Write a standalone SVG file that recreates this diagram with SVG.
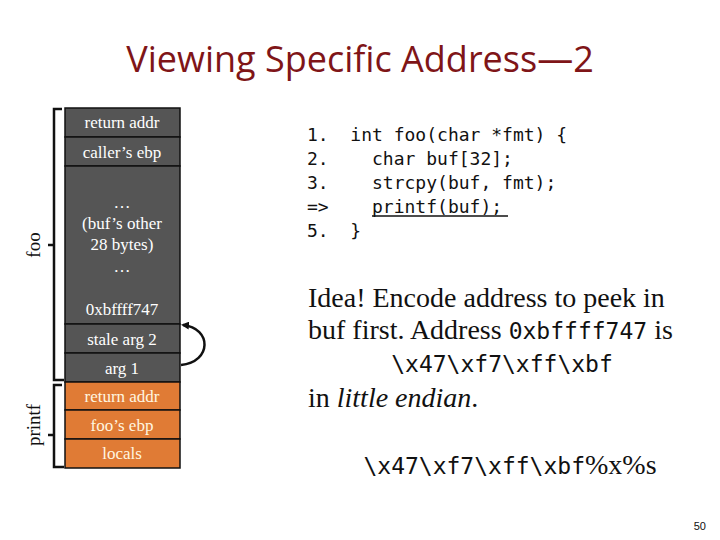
<svg xmlns="http://www.w3.org/2000/svg" width="720" height="540" viewBox="0 0 720 540">
<style>
.g{fill:#555555;stroke:#111;stroke-width:1.5}
.o{fill:#e07b35;stroke:#111;stroke-width:1.5}
.ct{font-family:"Liberation Serif",serif;font-size:17px;fill:#fff;text-anchor:middle}
.ot{font-family:"Liberation Serif",serif;font-size:17px;fill:#fff6e0;text-anchor:middle}
.code{font-family:"DejaVu Sans Mono",monospace;font-size:18px;fill:#111;white-space:pre}
.idea{font-family:"Liberation Serif",serif;font-size:28px;fill:#111}
.mono{font-family:"DejaVu Sans Mono",monospace;font-size:23px}
.br{fill:none;stroke:#111;stroke-width:2.5}
</style>
<defs><marker id="ah" markerWidth="8" markerHeight="8" refX="6" refY="4" orient="auto" markerUnits="userSpaceOnUse"><path d="M0,0 L8,4 L0,8 z" fill="#111"/></marker></defs>
<rect width="720" height="540" fill="#fff"/>
<text x="360" y="72" text-anchor="middle" font-family="Open Sans,Liberation Sans,sans-serif" font-size="36" fill="#7f1518">Viewing Specific Address—2</text>
<g id="stack">
<g id="n1"><rect class="g" x="65" y="108" width="115" height="29"/><text class="ct" x="122" y="128">return addr</text></g>
<g id="n2"><rect class="g" x="65" y="137" width="115" height="29"/><text class="ct" x="122" y="158">caller’s ebp</text></g>
<g id="n3"><rect class="g" x="65" y="166" width="115" height="158"/><text class="ct" x="122" y="208">…</text><text class="ct" x="122" y="229">(buf’s other</text><text class="ct" x="122" y="250">28 bytes)</text><text class="ct" x="122" y="272">…</text><text class="ct" x="122" y="315">0xbffff747</text></g>
<g id="n4"><rect class="g" x="65" y="324" width="115" height="29"/><text class="ct" x="122" y="345">stale arg 2</text></g>
<g id="n5"><rect class="g" x="65" y="353" width="115" height="29"/><text class="ct" x="122" y="374">arg 1</text></g>
<g id="n6"><rect class="o" x="65" y="382" width="115" height="28"/><text class="ot" x="122" y="402">return addr</text></g>
<g id="n7"><rect class="o" x="65" y="410" width="115" height="29"/><text class="ot" x="122" y="431">foo’s ebp</text></g>
<g id="n8"><rect class="o" x="65" y="439" width="115" height="29"/><text class="ot" x="122" y="459">locals</text></g>
</g>
<g id="braces">
<path class="br" d="M62,109 H54 V245 H48 M54,245 V380 H64"/>
<path class="br" d="M62,385 H54 V435 H48 M54,435 V467 H64"/>
<text x="40" y="245" transform="rotate(-90 40 245)" text-anchor="middle" font-family="Liberation Serif,serif" font-size="19" fill="#111">foo</text>
<text x="40" y="425" transform="rotate(-90 40 425)" text-anchor="middle" font-family="Liberation Serif,serif" font-size="19" fill="#111">printf</text>
</g>
<g id="connectors">
<path d="M181,365 C212,362 212,328 183,325" fill="none" stroke="#111" stroke-width="2.5" marker-end="url(#ah)"/>
</g>
<g id="code" class="code">
<text x="307" y="141" xml:space="preserve">1.  int foo(char *fmt) {</text>
<text x="307" y="165" xml:space="preserve">2.    char buf[32];</text>
<text x="307" y="189" xml:space="preserve">3.    strcpy(buf, fmt);</text>
<text x="307" y="213" xml:space="preserve">=&gt;    printf(buf);</text>
<text x="307" y="237" xml:space="preserve">5.  }</text>
<line x1="372" y1="216" x2="508" y2="216" stroke="#111" stroke-width="1.5"/>
</g>
<g id="idea" class="idea">
<text x="308" y="307">Idea! Encode address to peek in</text>
<text x="308" y="339">buf first. Address <tspan class="mono">0xbffff747</tspan> is</text>
<text x="502" y="372" text-anchor="middle" class="mono">\x47\xf7\xff\xbf</text>
<text x="308" y="407">in <tspan font-style="italic">little endian</tspan>.</text>
<text x="510" y="474" text-anchor="middle"><tspan class="mono">\x47\xf7\xff\xbf</tspan>%x%s</text>
</g>
<text x="706" y="530" text-anchor="end" font-family="Liberation Sans,sans-serif" font-size="11" fill="#111">50</text>
</svg>
